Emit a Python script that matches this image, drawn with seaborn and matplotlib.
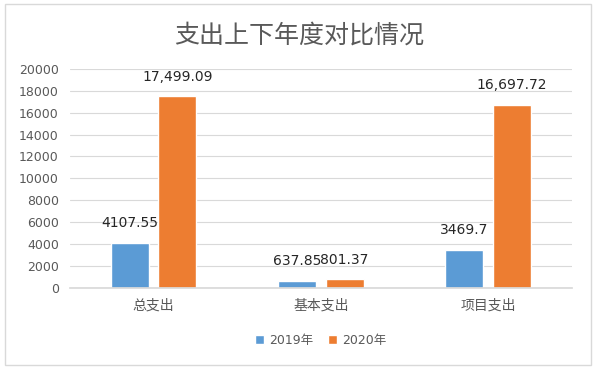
import matplotlib
matplotlib.use("Agg")
import matplotlib.pyplot as plt
import seaborn as sns
import pandas as pd
from matplotlib.patches import Rectangle

categories = ["总支出", "基本支出", "项目支出"]
series_names = ["2019年", "2020年"]
values_2019 = [4107.55, 637.85, 3469.7]
values_2020 = [17499.09, 801.37, 16697.72]
labels_2019 = ["4107.55", "637.85", "3469.7"]
labels_2020 = ["17,499.09", "801.37", "16,697.72"]
yticks = [0, 2000, 4000, 6000, 8000, 10000, 12000, 14000, 16000, 18000, 20000]

sns.set_theme(style="white")
plt.rcParams['font.family'] = ['DejaVu Sans', 'Noto Sans CJK SC']
cjk = ['Noto Sans CJK SC', 'DejaVu Sans']

df = pd.DataFrame({
    "category": categories * 2,
    "year": [series_names[0]] * 3 + [series_names[1]] * 3,
    "value": values_2019 + values_2020,
})

fig = plt.figure(figsize=(5.98, 3.72), dpi=100)
ax = fig.add_axes([0.117, 0.226, 0.839, 0.589])

palette = {series_names[0]: "#5B9BD5", series_names[1]: "#ED7D31"}
sns.barplot(data=df, x="category", y="value", hue="year", order=categories,
            hue_order=series_names, palette=palette, width=0.57, gap=0.2,
            ax=ax, saturation=1, errorbar=None, legend=True)

ax.set_ylim(0, 20000)
ax.set_yticks(yticks)
ax.set_yticklabels([str(t) for t in yticks])
ax.yaxis.grid(True, color="#D9D9D9", linewidth=0.8)
ax.set_axisbelow(True)
for s in ["top", "right", "left"]:
    ax.spines[s].set_visible(False)
ax.spines["bottom"].set_color("#D9D9D9")
ax.set_xlabel("")
ax.set_ylabel("")
ax.tick_params(axis="y", colors="#595959", labelsize=9, length=0, pad=8)
ax.tick_params(axis="x", colors="#595959", length=0, pad=8)
for t in ax.get_xticklabels():
    t.set_fontfamily(cjk)
    t.set_fontsize(10)
ax.set_xlim(-0.5, 2.5)

for cont, labs in zip(ax.containers, [labels_2019, labels_2020]):
    ax.bar_label(cont, labels=labs, padding=9, fontsize=10, color="#262626")

fig.text(0.5, 0.905, "支出上下年度对比情况", fontsize=18, color="#595959",
         ha="center", va="center", family=cjk)

leg = ax.legend(loc="upper center", bbox_to_anchor=(0.5, -0.16), ncol=2,
                frameon=False, fontsize=9, handlelength=0.7, handleheight=0.7,
                columnspacing=1.2, handletextpad=0.4)
for t in leg.get_texts():
    t.set_color("#595959")

fig.patches.append(Rectangle((0.008, 0.019), 0.98, 0.97, transform=fig.transFigure,
                             fill=False, edgecolor="#D9D9D9", linewidth=1))

fig.savefig("out.png", dpi=100)
